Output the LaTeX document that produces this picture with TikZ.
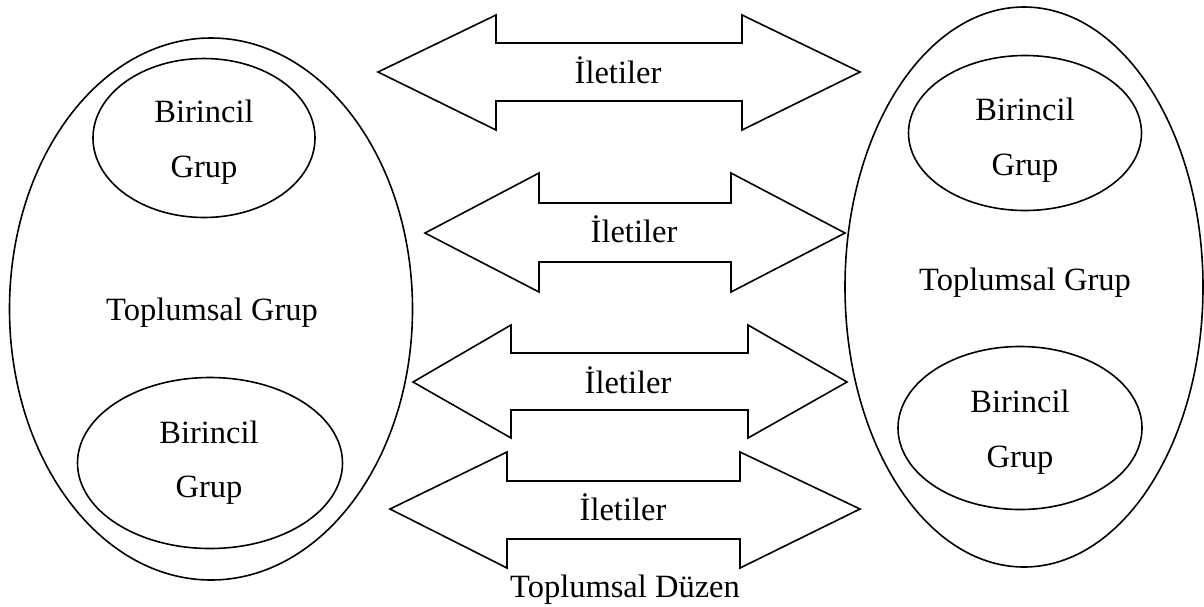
\documentclass[tikz,border=0pt]{standalone}
\usepackage{fontspec}
\setmainfont{Liberation Serif}
\usetikzlibrary{shapes.geometric}
\begin{document}
\begin{tikzpicture}[x=1pt,y=-1pt,
  ell/.style={ellipse,draw,line width=1.6pt,inner sep=0pt},
  lbl/.style={anchor=base,inner sep=0pt,font=\fontsize{32.5}{38}\selectfont},
  dbl/.style={draw,line width=1.6pt,line join=miter}]
\useasboundingbox (0,0) rectangle (1204,606);
% big ellipses
\node[ell,minimum width=403pt,minimum height=542pt] (L) at (211,309) {};
\node[ell,minimum width=358pt,minimum height=560pt] (R) at (1024,287) {};
% small ellipses
\node[ell,minimum width=222pt,minimum height=159pt] (LU) at (204,138) {};
\node[ell,minimum width=265pt,minimum height=171pt] (LD) at (210,463) {};
\node[ell,minimum width=233pt,minimum height=155pt] (RU) at (1025,133) {};
\node[ell,minimum width=244pt,minimum height=163pt] (RD) at (1020,428) {};
% texts
\node[lbl] (LUa) at (204,122) {Birincil};
\node[lbl] (LUb) at (204,177) {Grup};
\node[lbl] (LDa) at (209,443) {Birincil};
\node[lbl] (LDb) at (209,497) {Grup};
\node[lbl] (Lt) at (212,320) {Toplumsal Grup};
\node[lbl] (RUa) at (1025,120) {Birincil};
\node[lbl] (RUb) at (1025,175) {Grup};
\node[lbl] (RDa) at (1020,412) {Birincil};
\node[lbl] (RDb) at (1020,467) {Grup};
\node[lbl] (Rt) at (1025,290) {Toplumsal Grup};
% double arrows
\draw[dbl] (378,72) -- (496,15) -- (496,43) -- (742,43) -- (742,15) -- (860,72)
  -- (742,130) -- (742,101) -- (496,101) -- (496,130) -- cycle;
\draw[dbl] (425,233) -- (539,173) -- (539,203) -- (731,203) -- (731,173) -- (845,233)
  -- (731,292) -- (731,262) -- (539,262) -- (539,292) -- cycle;
\draw[dbl] (413,382) -- (511,325) -- (511,353) -- (748,353) -- (748,325) -- (847,382)
  -- (748,438) -- (748,410) -- (511,410) -- (511,438) -- cycle;
\draw[dbl] (390,509) -- (507,452) -- (507,481) -- (740,481) -- (740,452) -- (860,509)
  -- (740,568) -- (740,539) -- (507,539) -- (507,568) -- cycle;
\node[lbl] (A1) at (618,83) {İletiler};
\node[lbl] (A2) at (634,242) {İletiler};
\node[lbl] (A3) at (628,393) {İletiler};
\node[lbl] (A4) at (623,520) {İletiler};
\node[lbl] (TD) at (625,597) {Toplumsal Düzen};
\end{tikzpicture}
\end{document}
